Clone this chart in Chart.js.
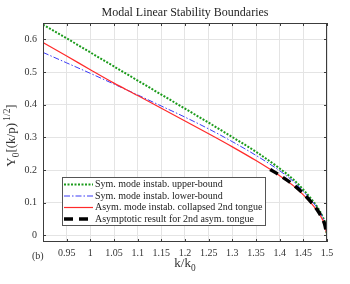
<!DOCTYPE html>
<html>
<head>
<meta charset="utf-8">
<script src="https://cdn.jsdelivr.net/npm/chart.js@4"></script>
<style>
  html, body { margin: 0; padding: 0; background: #fff; }
  canvas { display: block; }
</style>
</head>
<body>
<canvas id="stabChart" width="350" height="284"></canvas>
<script>
// k/k0 grid shared by the three numerical curves
const kGrid = [0.9, 0.95, 1.0, 1.05, 1.1, 1.15, 1.2, 1.25, 1.3, 1.35, 1.4, 1.43, 1.45, 1.47, 1.48, 1.49, 1.495, 1.5];
const upperBound = [0.645, 0.603, 0.560, 0.517, 0.474, 0.431, 0.388, 0.345, 0.301, 0.256, 0.205, 0.170, 0.140, 0.106, 0.086, 0.060, 0.042, 0.0];
const lowerBound = [0.560, 0.528, 0.496, 0.463, 0.430, 0.396, 0.362, 0.326, 0.287, 0.245, 0.198, 0.164, 0.135, 0.102, 0.083, 0.058, 0.040, 0.0];
const collapsedTongue = [0.590, 0.549, 0.507, 0.466, 0.428, 0.389, 0.350, 0.311, 0.271, 0.229, 0.183, 0.151, 0.124, 0.093, 0.074, 0.050, 0.034, 0.0];
// asymptotic result only near the end
const asymK = [1.38, 1.4, 1.43, 1.45, 1.47, 1.48, 1.49, 1.495, 1.5];
const asymY = [0.202, 0.184, 0.154, 0.128, 0.096, 0.077, 0.052, 0.035, 0.0];

const xTicks = [0.95, 1, 1.05, 1.1, 1.15, 1.2, 1.25, 1.3, 1.35, 1.4, 1.45, 1.5];
const yTicks = [0, 0.1, 0.2, 0.3, 0.4, 0.5, 0.6];

const labels = [
  'Sym. mode instab. upper-bound',
  'Sym. mode instab. lower-bound',
  'Asym. mode instab. collapsed 2nd tongue',
  'Asymptotic result for 2nd asym. tongue'
];

const serif = "'Liberation Serif', 'Times New Roman', serif";
const axisColor = '#3c3c3c';

function pts(xs, ys) {
  return xs.map((x, i) => ({ x: x, y: ys[i] }));
}

// draws a label made of pieces: [text, shift] where shift: 0 normal, 1 sub, -1 sup
function drawRich(ctx, pieces, x, y, size) {
  let total = 0;
  pieces.forEach(p => {
    ctx.font = (p[1] ? size * 0.72 : size) + 'px ' + serif;
    total += ctx.measureText(p[0]).width;
  });
  let cx = x - total / 2;
  pieces.forEach(p => {
    ctx.font = (p[1] ? size * 0.72 : size) + 'px ' + serif;
    ctx.fillText(p[0], cx, y + p[1] * size * 0.38);
    cx += ctx.measureText(p[0]).width;
  });
}

const decorPlugin = {
  id: 'decor',
  afterDraw(chart) {
    const ctx = chart.ctx;
    const a = chart.chartArea;
    const xs = chart.scales.x, ys = chart.scales.y;
    ctx.save();

    // frame + inward ticks
    ctx.strokeStyle = axisColor;
    ctx.lineWidth = 1;
    ctx.strokeRect(a.left + 0.5, a.top + 0.5, a.right - a.left - 1, a.bottom - a.top - 1);
    ctx.beginPath();
    xTicks.forEach(v => {
      const px = Math.round(xs.getPixelForValue(v)) + 0.5;
      ctx.moveTo(px, a.bottom); ctx.lineTo(px, a.bottom - 3);
      ctx.moveTo(px, a.top); ctx.lineTo(px, a.top + 3);
    });
    yTicks.forEach(v => {
      const py = Math.round(ys.getPixelForValue(v)) + 0.5;
      ctx.moveTo(a.left, py); ctx.lineTo(a.left + 3, py);
      ctx.moveTo(a.right, py); ctx.lineTo(a.right - 3, py);
    });
    ctx.stroke();

    // title
    ctx.fillStyle = '#1e1e1e';
    ctx.textAlign = 'center';
    ctx.textBaseline = 'middle';
    ctx.font = '12px ' + serif;
    ctx.fillText('Modal Linear Stability Boundaries', (a.left + a.right) / 2, 13);

    // axis titles
    ctx.fillStyle = '#333';
    ctx.textAlign = 'left';
    drawRich(ctx, [['k/k', 0], ['0', 1]], (a.left + a.right) / 2, 264, 13);
    ctx.save();
    ctx.translate(12, (a.top + a.bottom) / 2 + 3);
    ctx.rotate(-Math.PI / 2);
    drawRich(ctx, [['Y', 0], ['0', 1], ['[(k/p)', 0], [' 1/2', -1], [']', 0]], 0, 0, 13);
    ctx.restore();
    ctx.font = '10px ' + serif;
    ctx.fillText('(b)', 32, 256);

    // legend box
    const bx = 62, by = 177, bw = 203, bh = 48;
    ctx.fillStyle = '#fff';
    ctx.fillRect(bx, by, bw, bh);
    ctx.strokeStyle = '#555';
    ctx.strokeRect(bx + 0.5, by + 0.5, bw, bh);
    const rows = [184.5, 196, 207.5, 219];
    chart.data.datasets.forEach((ds, i) => {
      const y = rows[i];
      ctx.beginPath();
      ctx.strokeStyle = ds.borderColor;
      ctx.lineWidth = ds.borderWidth;
      ctx.setLineDash(ds.borderDash || []);
      ctx.moveTo(64, y); ctx.lineTo(93, y);
      ctx.stroke();
      ctx.setLineDash([]);
      ctx.fillStyle = '#222';
      ctx.font = '10px ' + serif;
      ctx.textAlign = 'left';
      ctx.fillText(labels[i], 95, y);
    });
    ctx.restore();
  }
};

const chart = new Chart(document.getElementById('stabChart').getContext('2d'), {
  type: 'line',
  data: {
    datasets: [
      { data: pts(kGrid, upperBound), borderColor: '#1b9b1b', borderWidth: 2, borderDash: [2, 1.5], order: 3 },
      { data: pts(kGrid, lowerBound), borderColor: '#3b3bf5', borderWidth: 1, borderDash: [6, 2, 1.5, 2], order: 2 },
      { data: pts(kGrid, collapsedTongue), borderColor: '#ff2a2a', borderWidth: 1.2, order: 1 },
      { data: pts(asymK, asymY), borderColor: '#000', borderWidth: 3.5, borderDash: [9, 6], order: 0 }
    ]
  },
  options: {
    responsive: false,
    animation: false,
    devicePixelRatio: 1,
    layout: { padding: { top: 23, right: 23, left: 0, bottom: 0 } },
    plugins: { legend: { display: false }, tooltip: { enabled: false } },
    elements: { point: { radius: 0 }, line: { cubicInterpolationMode: 'monotone', fill: false } },
    scales: {
      x: {
        type: 'linear',
        min: 0.9,
        max: 1.5,
        afterFit(s) { s.height = 42; },
        border: { display: false },
        grid: { color: '#e4e4e4', drawTicks: false },
        ticks: {
          stepSize: 0.05,
          autoSkip: false,
          maxRotation: 0,
          padding: 5,
          color: '#333',
          font: { family: serif, size: 10 },
          callback: v => (Math.abs(v - 0.9) < 1e-6 ? '' : String(parseFloat(v.toFixed(2))))
        }
      },
      y: {
        type: 'linear',
        min: -0.02,
        max: 0.65,
        afterFit(s) { s.width = 43; },
        border: { display: false },
        grid: { color: '#e4e4e4', drawTicks: false },
        ticks: {
          stepSize: 0.1,
          includeBounds: false,
          padding: 6,
          color: '#333',
          font: { family: serif, size: 10 },
          callback: v => String(parseFloat(v.toFixed(2)))
        }
      }
    }
  },
  plugins: [decorPlugin]
});
</script>
</body>
</html>
